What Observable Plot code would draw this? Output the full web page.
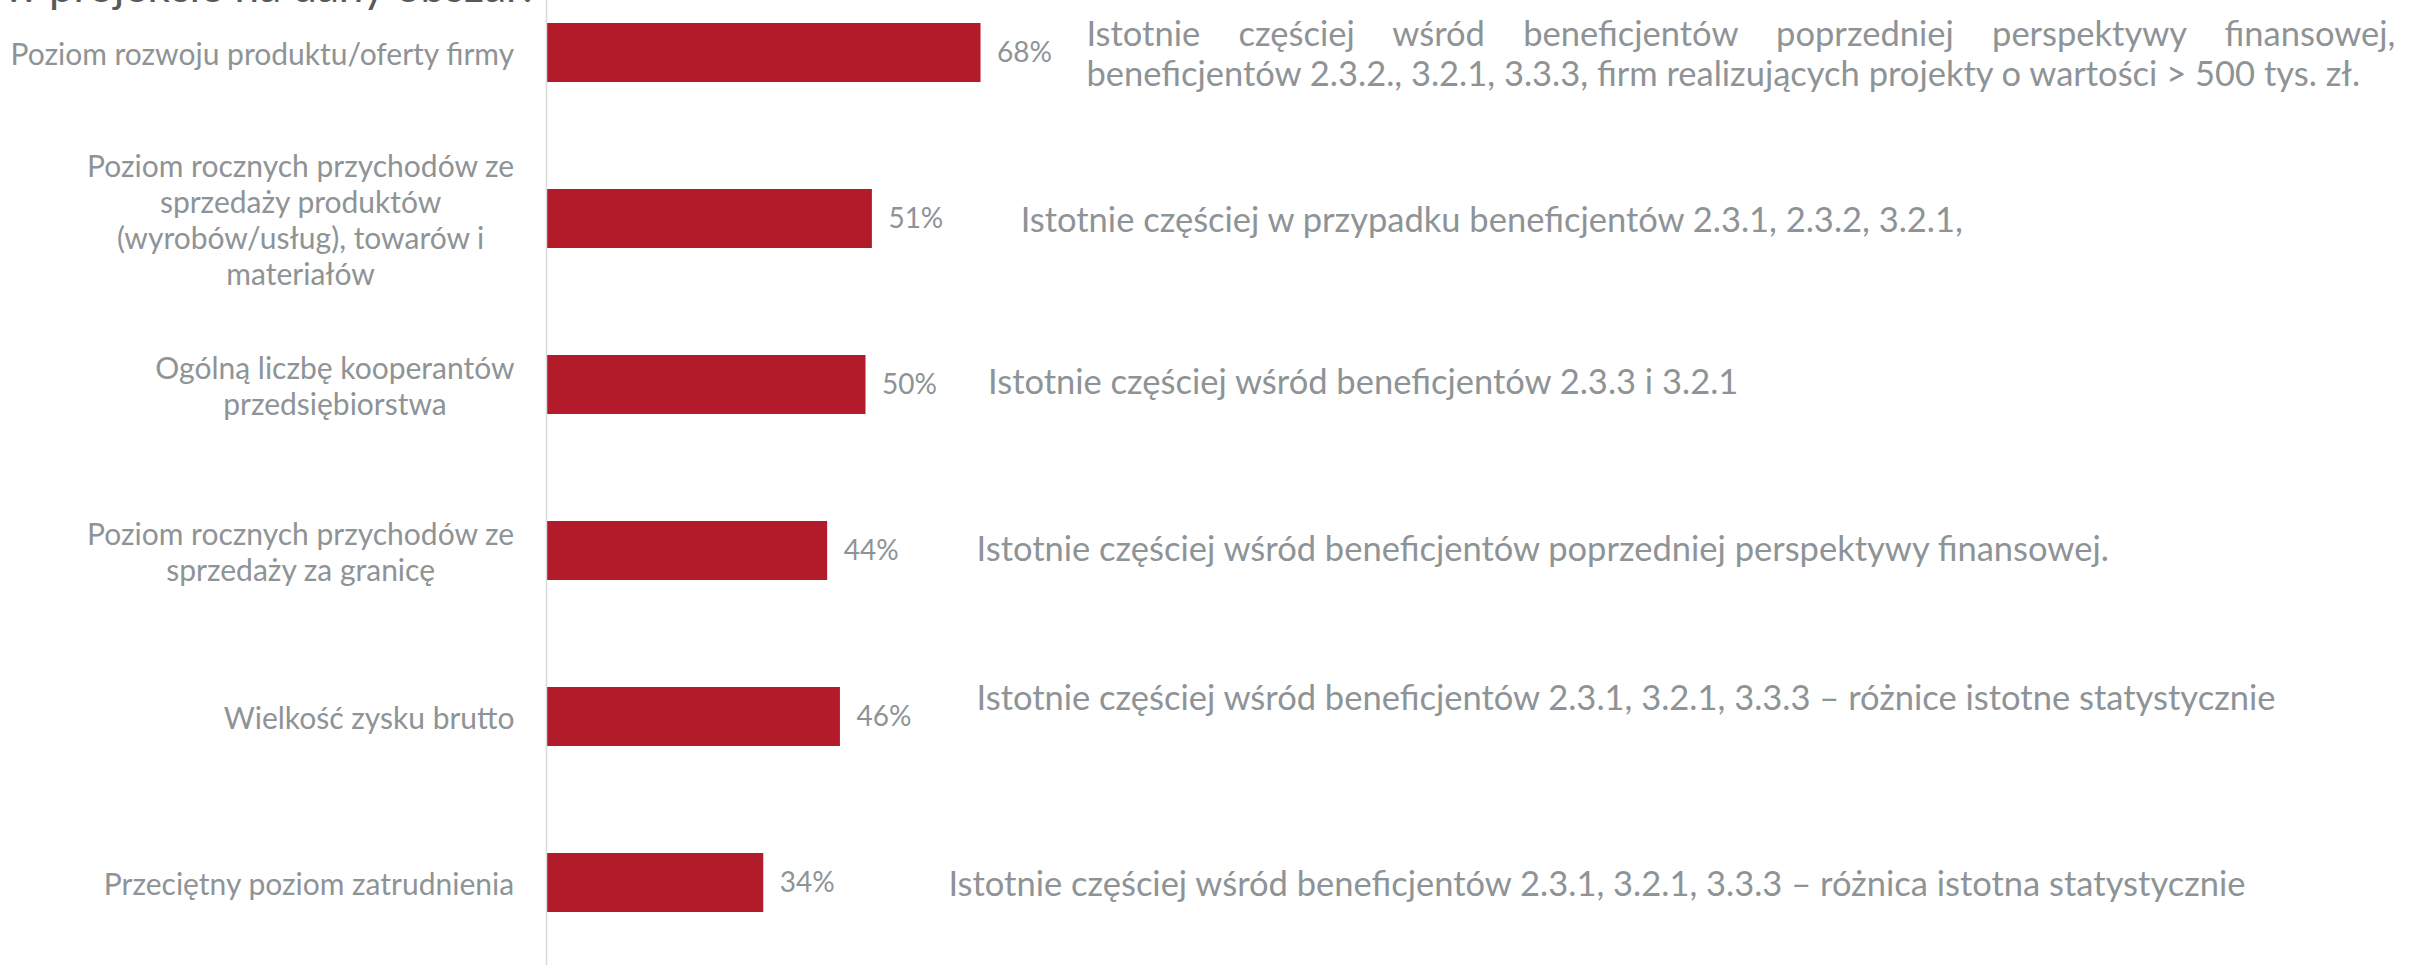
<!DOCTYPE html>
<html><head><meta charset="utf-8">
<script src="https://cdn.jsdelivr.net/npm/d3@7"></script>
<script src="https://cdn.jsdelivr.net/npm/@observablehq/plot@0.6"></script>
<style>
body{margin:0;background:#fff;overflow:hidden;}
#wrap{position:relative;width:2412px;height:965px;overflow:hidden;background:#fff;}
#title{position:absolute;left:4px;top:-37px;font-family:Lato,sans-serif;font-size:44px;color:#595959;white-space:nowrap;line-height:1;z-index:2;}
#chart{position:absolute;left:0;top:0;}
</style></head><body>
<div id="wrap"><div id="chart"></div><div id="title">w projekcie na dany obszar:</div></div>
<script>
// ---- data ----
const categories = [
  "Poziom rozwoju produktu/oferty firmy",
  "Poziom rocznych przychodów ze sprzedaży produktów (wyrobów/usług), towarów i materiałów",
  "Ogólną liczbę kooperantów przedsiębiorstwa",
  "Poziom rocznych przychodów ze sprzedaży za granicę",
  "Wielkość zysku brutto",
  "Przeciętny poziom zatrudnienia"
];
const categoryLines = [
  ["Poziom rozwoju produktu/oferty firmy"],
  ["Poziom rocznych przychodów ze", "sprzedaży produktów", "(wyrobów/usług), towarów i", "materiałów"],
  ["Ogólną liczbę kooperantów", "przedsiębiorstwa"],
  ["Poziom rocznych przychodów ze", "sprzedaży za granicę"],
  ["Wielkość zysku brutto"],
  ["Przeciętny poziom zatrudnienia"]
];
const values = [68, 51, 50, 44, 46, 34];
const noteLines = [
  ["Istotnie częściej wśród beneficjentów poprzedniej perspektywy finansowej,", "beneficjentów 2.3.2., 3.2.1, 3.3.3, firm realizujących projekty o wartości > 500 tys. zł."],
  ["Istotnie częściej w przypadku beneficjentów 2.3.1, 2.3.2, 3.2.1,"],
  ["Istotnie częściej wśród beneficjentów 2.3.3 i 3.2.1"],
  ["Istotnie częściej wśród beneficjentów poprzedniej perspektywy finansowej."],
  ["Istotnie częściej wśród beneficjentów 2.3.1, 3.2.1, 3.3.3 – różnice istotne statystycznie"],
  ["Istotnie częściej wśród beneficjentów 2.3.1, 3.2.1, 3.3.3 – różnica istotna statystycznie"]
];
// text-box anchors of the notes (in x-scale units) and vertical nudges
const noteAnchor = [84.5, 74.2, 69.1, 67.3, 67.3, 62.9];
const noteNudge = [0, 0, -4, -3, -20, 0];

// ---- style ----
const FONT = "Lato, 'Noto Sans', sans-serif";
const GRAY = "#8e9396";
const RED = "#b31b2b";
const LABEL_SIZE = 30;
const NOTE_SIZE = 34.5;
const VALUE_SIZE = 28;
const JUSTIFY_WIDTH = 1309;

const data = categories.map((c, i) => ({cat: c, value: values[i], lines: categoryLines[i], note: noteLines[i].join("\n"), nx: noteAnchor[i]}));

const ctx = document.createElement("canvas").getContext("2d");
ctx.font = `${LABEL_SIZE}px Lato`;
const labelMarks = data.map(d => {
  const w = d3.max(d.lines, l => ctx.measureText(l).width);
  return Plot.text([d], {
    y: "cat", text: d => d.lines.join("\n"), frameAnchor: "left", textAnchor: "middle",
    dx: -(32 + w / 2), fontSize: LABEL_SIZE, lineHeight: 1.2, fill: GRAY
  });
});

const noteMarks = data.map((d, i) => Plot.text([d], {
  x: "nx", y: "cat", text: "note", textAnchor: "start", dy: noteNudge[i],
  fontSize: NOTE_SIZE, lineHeight: 1.17, fill: GRAY
}));

const plot = Plot.plot({
  width: 2412, height: 965,
  marginLeft: 546, marginRight: 1227, marginTop: 0, marginBottom: 0,
  style: {fontFamily: FONT, background: "white", overflow: "hidden"},
  x: {domain: [0, 100], axis: null},
  y: {domain: categories, range: [-32, 966], paddingInner: 0.645, paddingOuter: 0.3225, axis: null},
  marks: [
    Plot.barX(data, {x: "value", y: "cat", fill: RED}),
    Plot.ruleX([0], {stroke: "#d9d9d9", strokeWidth: 1.5}),
    Plot.text(data, {x: "value", y: "cat", text: d => d.value + "%", dx: 16, textAnchor: "start", fontSize: VALUE_SIZE, fill: GRAY}),
    ...labelMarks,
    ...noteMarks
  ]
});
document.getElementById("chart").appendChild(plot);

// justify the first line of the first (two-line) note
const firstLine = noteLines[0][0];
plot.querySelectorAll("tspan, text").forEach(el => {
  if (el.textContent === firstLine) {
    const len = el.getComputedTextLength();
    const gaps = firstLine.split(" ").length - 1;
    el.setAttribute("word-spacing", ((JUSTIFY_WIDTH - len) / gaps) + "px");
    el.style.wordSpacing = ((JUSTIFY_WIDTH - len) / gaps) + "px";
  }
});
</script>
</body></html>
